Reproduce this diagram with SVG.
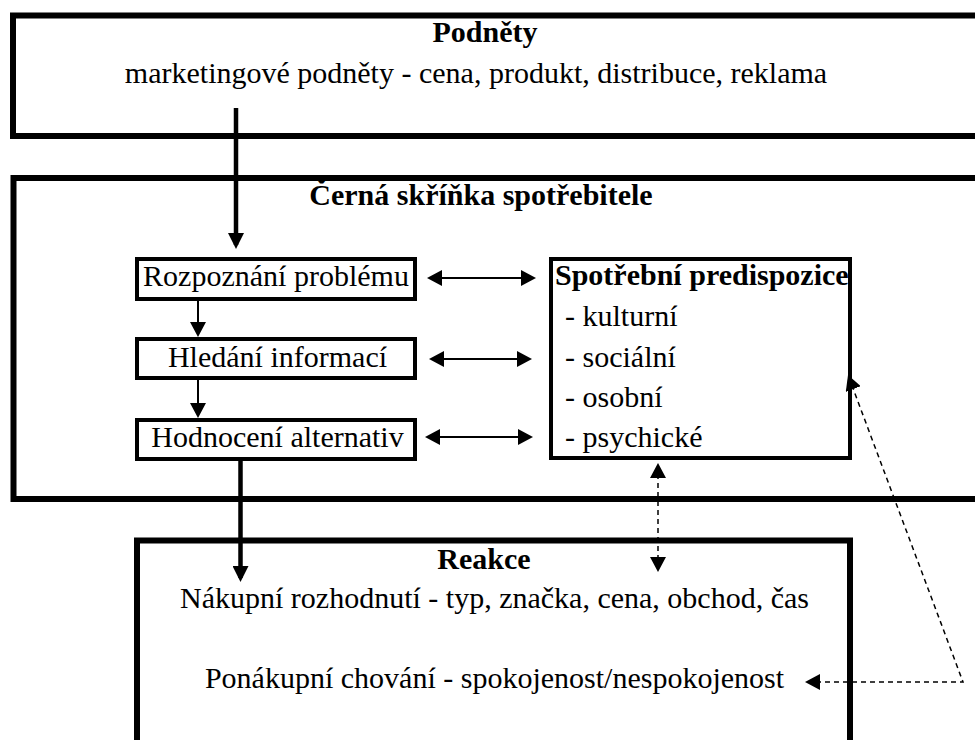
<svg xmlns="http://www.w3.org/2000/svg" width="975" height="740" viewBox="0 0 975 740">
<style>
text{font-family:"Liberation Serif","Times New Roman",serif;font-size:30px;fill:#000}
.b{font-weight:bold}
.m{text-anchor:middle}
.outer{fill:none;stroke:#000;stroke-width:6}
.box{fill:#fff;stroke:#000;stroke-width:4}
.thick{stroke:#000;stroke-width:4.5;fill:none}
.thin{stroke:#000;stroke-width:2;fill:none}
.dash{stroke:#000;stroke-width:1.5;fill:none;stroke-dasharray:5 4}
</style>
<defs>
<marker id="big" viewBox="0 0 16 16" refX="12" refY="8" markerWidth="16" markerHeight="16" orient="auto-start-reverse" markerUnits="userSpaceOnUse"><path d="M0,0 L16,8 L0,16 z" fill="#000"/></marker>
<marker id="small" viewBox="0 0 15 16" refX="13" refY="8" markerWidth="15" markerHeight="16" orient="auto-start-reverse" markerUnits="userSpaceOnUse"><path d="M0,0 L15,8 L0,16 z" fill="#000"/></marker>
</defs>
<rect width="975" height="740" fill="#fff"/>

<g id="podnety">
<rect class="outer" x="13" y="15.5" width="980" height="120.5"/>
<text class="b m" x="485" y="42">Podněty</text>
<text class="m" x="476" y="83">marketingové podněty - cena, produkt, distribuce, reklama</text>
</g>

<g id="cerna-skrinka">
<rect class="outer" x="13.5" y="178" width="980" height="321"/>
<text class="b m" x="481" y="205">Černá skříňka spotřebitele</text>
</g>

<g id="reakce">
<rect class="outer" x="137" y="540.5" width="713" height="230"/>
<text class="b m" x="484" y="569">Reakce</text>
<text class="m" x="494.5" y="608">Nákupní rozhodnutí - typ, značka, cena, obchod, čas</text>
<text class="m" x="494.5" y="688">Ponákupní chování - spokojenost/nespokojenost</text>
</g>

<g id="rozpoznani">
<rect class="box" x="137" y="259" width="278" height="40"/>
<text class="m" x="276" y="286">Rozpoznání problému</text>
</g>

<g id="hledani">
<rect class="box" x="137" y="339" width="278" height="39"/>
<text class="m" x="277.5" y="367">Hledání informací</text>
</g>

<g id="hodnoceni">
<rect class="box" x="137" y="420" width="278" height="39"/>
<text class="m" x="277.5" y="447">Hodnocení alternativ</text>
</g>

<g id="predispozice">
<rect class="box" x="551" y="259" width="299" height="199"/>
<text class="b" x="555" y="285">Spotřební predispozice</text>
<text x="565" y="326">- kulturní</text>
<text x="565" y="367">- sociální</text>
<text x="565" y="407">- osobní</text>
<text x="565" y="447">- psychické</text>
</g>

<g id="connectors">
<line class="thick" x1="236" y1="108" x2="236" y2="245" marker-end="url(#big)"/>
<line class="thick" x1="240.5" y1="460" x2="240.5" y2="578" marker-end="url(#big)"/>
<line class="thin" x1="198" y1="300" x2="198" y2="335" marker-end="url(#small)"/>
<line class="thin" x1="198" y1="379" x2="198" y2="416" marker-end="url(#small)"/>
<line class="thin" x1="429" y1="278" x2="534" y2="278" marker-start="url(#small)" marker-end="url(#small)"/>
<line class="thin" x1="431" y1="359" x2="530" y2="359" marker-start="url(#small)" marker-end="url(#small)"/>
<line class="thin" x1="427" y1="437" x2="531" y2="437" marker-start="url(#small)" marker-end="url(#small)"/>
<line class="dash" x1="658" y1="465" x2="658" y2="570" marker-start="url(#small)" marker-end="url(#small)"/>
<path class="dash" d="M807,682 L963,682 L848.7,376.9" marker-start="url(#small)" marker-end="url(#small)"/>
</g>
</svg>
